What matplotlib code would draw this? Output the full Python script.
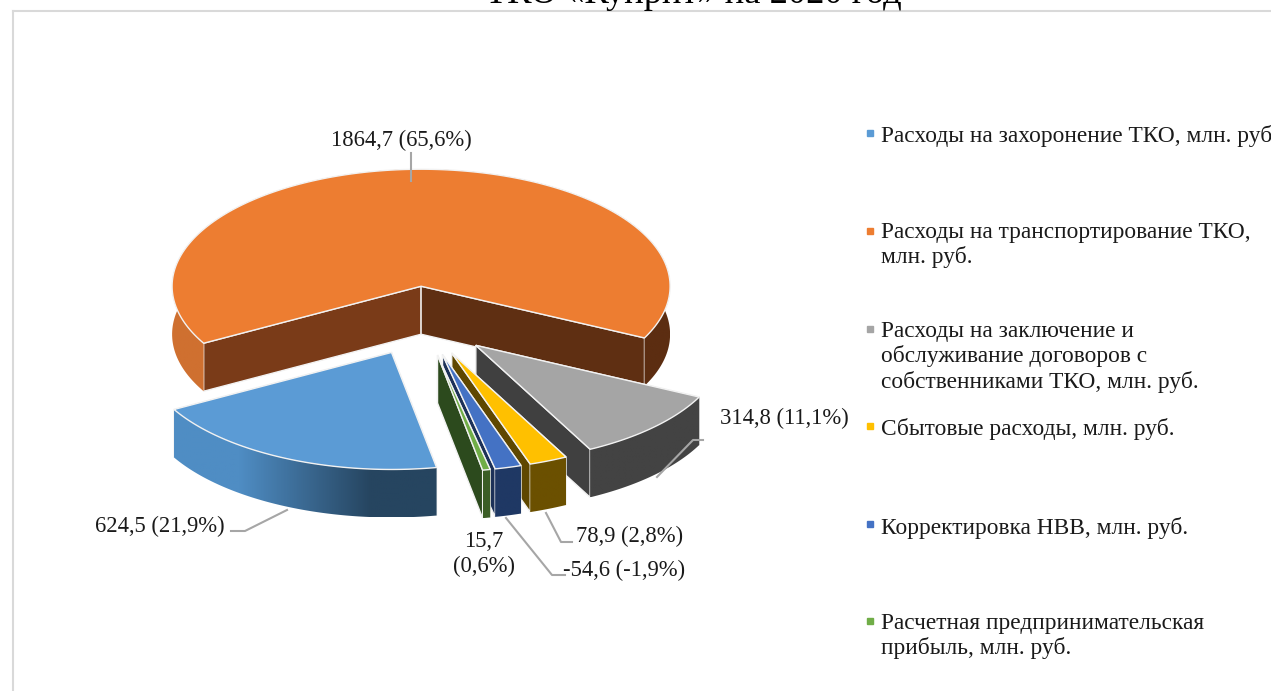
import numpy as np
import matplotlib
matplotlib.use('Agg')
import matplotlib.pyplot as plt
from matplotlib.colors import to_rgb
from matplotlib.patches import Polygon

plt.rcParams['font.family'] = ['Liberation Serif', 'DejaVu Serif']

# Werte aus dem Bild
values = [624.5, 1864.7, 314.8, 78.9, -54.6, 15.7]
data_labels = ['624,5 (21,9%)', '1864,7 (65,6%)', '314,8 (11,1%)', '78,9 (2,8%)', '-54,6 (-1,9%)', '15,7\n(0,6%)']
legend_labels = [
    'Расходы на захоронение ТКО, млн. руб.',
    'Расходы на транспортирование ТКО,\nмлн. руб.',
    'Расходы на заключение и\nобслуживание договоров с\nсобственниками ТКО, млн. руб.',
    'Сбытовые расходы, млн. руб.',
    'Корректировка НВВ, млн. руб.',
    'Расчетная предпринимательская\nприбыль, млн. руб.',
]
title = 'ТКО «Куприт» на 2020 год'

top_colors = ['#5b9bd5', '#ed7d31', '#a5a5a5', '#ffc000', '#4472c4', '#70ad47']
wall_left = ['#4f8dc4', '#cf7030', '#434343', '#6b5000', '#1f3864', '#3b5e26']
wall_right = ['#264560', '#5c2d11', '#434343', '#6b5000', '#1f3864', '#3b5e26']
cut_start = ['#264560', '#7a3b18', '#404040', '#5f4700', '#1c3158', '#2c4a1d']
cut_end = ['#264560', '#5f2f12', '#404040', '#5f4700', '#1c3158', '#2c4a1d']

# Geometrie der Torte in Pixeln
cx, cy = 423, 321
rx, ry = 249, 117
explode = 74
depth = 48
warp = 4.4  # Perspektive in Grad
start = 168.7

label_pos = [(160, 526), (401, 140), (784, 418), (630, 536), (624, 570), (484, 554)]
leaders = [
    [(231, 531), (245, 531), (287, 510)],
    [(411, 153), (411, 181)],
    [(703, 440), (693, 440), (657, 477)],
    [(546, 513), (561, 542), (572, 542)],
    [(506, 518), (552, 575), (565, 575)],
]
legend_x = 881
legend_y = [136, 233, 332, 429, 528, 624]
marker_y = [133, 231, 329, 426, 524, 621]


def warped(a):
    return a + warp * np.sin(np.radians(a))


fig = plt.figure(figsize=(12.71, 6.91), dpi=100)
ax = fig.add_axes([0, 0, 1, 1])

# Winkel aus den Beträgen
shares = np.abs(values) / np.sum(np.abs(values)) * 360
starts = start + np.concatenate([[0], np.cumsum(shares)[:-1]])
ends = starts + shares


def draw_slice(i, z):
    a1, a2 = warped(starts[i]), warped(ends[i])
    mid = np.radians((a1 + a2) / 2)
    ox = cx + explode * np.sin(mid)
    oy = cy - explode * ry / rx * np.cos(mid)
    t = np.radians(np.linspace(a1, a2, 200))
    xs = ox + rx * np.sin(t)
    ys = oy - ry * np.cos(t)
    edge = '#f2f2f2'

    # Schnittflächen
    ax.add_patch(Polygon([(ox, oy), (xs[0], ys[0]), (xs[0], ys[0] + depth), (ox, oy + depth)],
                         fc=cut_start[i], ec=edge, lw=1, zorder=z))
    ax.add_patch(Polygon([(ox, oy), (xs[-1], ys[-1]), (xs[-1], ys[-1] + depth), (ox, oy + depth)],
                         fc=cut_end[i], ec=edge, lw=1, zorder=z + 0.1))

    # Aussenwand mit Verlauf
    wall = np.column_stack([np.r_[xs, xs[::-1]], np.r_[ys, ys[::-1] + depth]])
    grad = np.array([[to_rgb(wall_left[i]), to_rgb(wall_right[i])]])
    im = ax.imshow(grad, extent=(xs.min(), xs.max(), ys.max() + depth, ys.min()),
                   aspect='auto', interpolation='bilinear', zorder=z + 0.2)
    im.set_clip_path(Polygon(wall, transform=ax.transData))

    # Deckfläche
    top = np.vstack([[(ox, oy)], np.column_stack([xs, ys])])
    ax.add_patch(Polygon(top, fc=top_colors[i], ec=edge, lw=1, zorder=z + 0.4))


# von hinten nach vorne
for z, i in enumerate([1, 2, 3, 4, 5, 0]):
    draw_slice(i, z + 2)

for pts in leaders:
    ax.plot([p[0] for p in pts], [p[1] for p in pts], color='#a6a6a6', lw=1.5, zorder=20)

for lab, (x, y) in zip(data_labels, label_pos):
    ax.text(x, y, lab, fontsize=16.3, ha='center', va='center', color='#1a1a1a', zorder=21,
            linespacing=1.25)

for lab, y, my, col in zip(legend_labels, legend_y, marker_y, top_colors):
    ax.text(legend_x, y - 11, lab, fontsize=16.8, ha='left', va='top', color='#1a1a1a',
            linespacing=1.2, clip_on=True)
    ax.plot([870], [my], marker='s', ms=5, color=col, ls='none')

# Rahmen und abgeschnittener Titel
ax.plot([13, 13], [691, 11], color='#d9d9d9', lw=1.5)
ax.plot([13, 1271], [11, 11], color='#d9d9d9', lw=1.5)
ax.text(693, 3, title, fontsize=26.3, ha='center', va='baseline', color='black', clip_on=True)

ax.set_xlim(0, 1271)
ax.set_ylim(691, 0)
ax.axis('off')

fig.savefig('out.png', dpi=100)
plt.close(fig)
